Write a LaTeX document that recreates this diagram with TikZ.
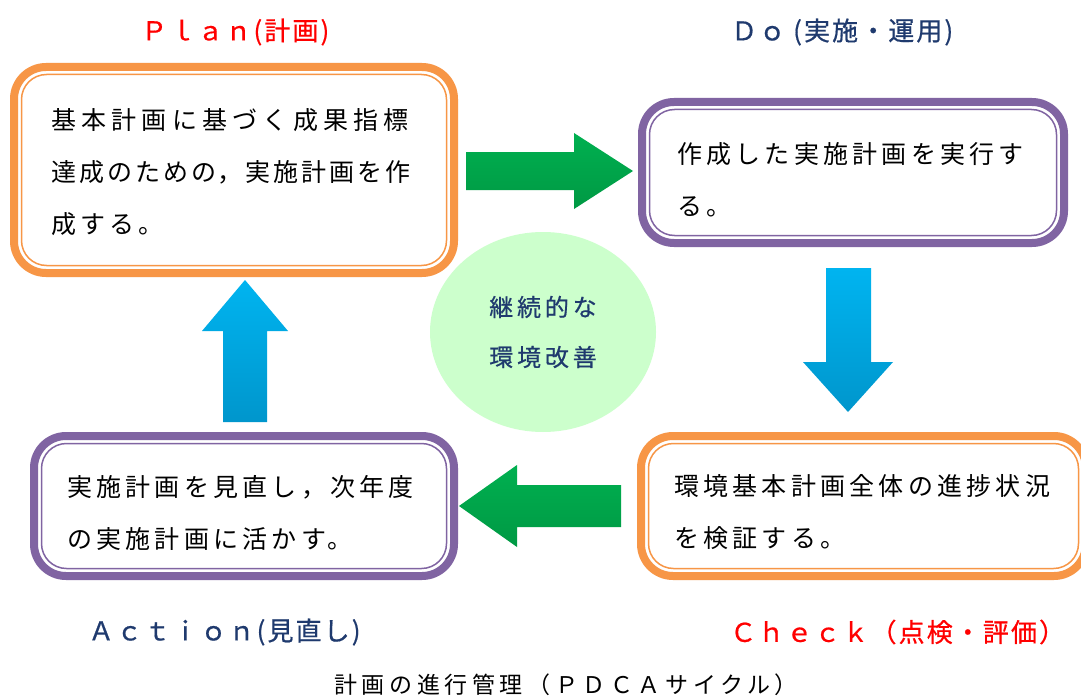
\documentclass[tikz,border=0pt]{standalone}
\usepackage{fontspec}
\setmainfont{Noto Sans CJK JP}
\newfontfamily\jpbox[LetterSpace=17]{Noto Sans CJK JP}
\newfontfamily\jpboxwide[LetterSpace=21]{Noto Sans CJK JP}
\newfontfamily\jpboxnarrow[LetterSpace=12]{Noto Sans CJK JP}
\newfontfamily\jplab[LetterSpace=8,FakeBold=0.6]{Noto Sans CJK JP}
\newfontfamily\jptitle[LetterSpace=20]{Noto Sans CJK JP}
\newfontfamily\jpcirc[LetterSpace=16,FakeBold=0.6]{Noto Sans CJK JP}
\usetikzlibrary{shapes.geometric}
\definecolor{pdcaorange}{HTML}{F79646}
\definecolor{pdcapurple}{HTML}{8064A2}
\definecolor{pdcanavy}{HTML}{1F3A6E}
\definecolor{pdcared}{HTML}{FF0000}
\definecolor{pdcamint}{HTML}{CCFFCC}
\definecolor{greentop}{HTML}{00B050}
\definecolor{greenbot}{HTML}{009944}
\definecolor{bluetop}{HTML}{00B4F0}
\definecolor{bluebot}{HTML}{0096CC}
\tikzset{
  pdcabox/.style={draw=#1, line width=8pt, rounded corners=32pt, fill=white,
    outer sep=0pt, inner sep=0pt, rectangle},
  innerline/.style={draw=#1, line width=1.5pt, rounded corners=25pt},
  boxtext/.style={align=left, inner sep=0pt, text=black, anchor=west,
    font=\jpbox\fontsize{25}{52}\selectfont},
  phase/.style={inner sep=0pt, anchor=west, font=\jplab\fontsize{26}{30}\selectfont},
  greenarrow/.style={top color=greentop, bottom color=greenbot, draw=none},
  bluearrow/.style={top color=bluetop, bottom color=bluebot, draw=none},
}
\begin{document}
\begin{tikzpicture}[x=1pt,y=-1pt]
\useasboundingbox[fill=white] (0,0) rectangle (1081,698);

% boxes
\node[pdcabox=pdcaorange, minimum width=440pt, minimum height=206pt] (plan) at (234,170) {};
\node[pdcabox=pdcapurple, minimum width=422pt, minimum height=141pt] (do) at (853,172.5) {};
\node[pdcabox=pdcaorange, minimum width=445pt, minimum height=140pt] (check) at (863.5,506) {};
\node[pdcabox=pdcapurple, minimum width=420pt, minimum height=140pt] (act) at (244,506) {};

\foreach \n/\c in {plan/pdcaorange, do/pdcapurple, check/pdcaorange, act/pdcapurple}
  \draw[innerline=\c] ([shift={(7.5,7.5)}]\n.north west) rectangle ([shift={(-7.5,-7.5)}]\n.south east);

% box texts
\node[boxtext] (plantext) at (51,172.5) {{\jpboxwide 基本計画に基づく成果指標}\\{\jpboxnarrow 達成のための，実施計画を作}\\成する。};
\node[boxtext] (dotext) at (677,180) {作成した実施計画を実行す\\る。};
\node[boxtext] (checktext) at (674,512.5) {環境基本計画全体の進捗状況\\を検証する。};
\node[boxtext] (acttext) at (67,512.5) {実施計画を見直し，次年度\\の実施計画に活かす。};

% centre ellipse
\node[ellipse, fill=pdcamint, minimum width=226pt, minimum height=200pt, inner sep=0pt,
  align=center, text=pdcanavy, font=\jpcirc\fontsize{24}{50}\selectfont] (centre) at (543,332)
  {継続的な\\環境改善};

% block arrows
\shade[greenarrow] (466,152) -- (574,152) -- (574,133) -- (633,171) -- (574,209) -- (574,190) -- (466,190) -- cycle;
\shade[bluearrow] (826,268) -- (871,268) -- (871,362) -- (893,362) -- (848,412) -- (803,362) -- (826,362) -- cycle;
\shade[greenarrow] (621,485) -- (517,485) -- (517,465) -- (459,506) -- (517,547) -- (517,527) -- (621,527) -- cycle;
\shade[bluearrow] (223,422) -- (267,422) -- (267,331) -- (288,331) -- (245,280) -- (202,331) -- (223,331) -- cycle;

% phase labels
\node[phase, text=pdcared] (planlabel) at (141,32) {Ｐｌａｎ(計画)};
\node[phase, text=pdcanavy] (dolabel) at (731,32) {Ｄｏ (実施・運用)};
\node[phase, text=pdcanavy] (actlabel) at (88,632) {Ａｃｔｉｏｎ(見直し)};
\node[phase, text=pdcared] (checklabel) at (730,632) {Ｃｈｅｃｋ（点検・評価）};

% title
\node[inner sep=0pt, text=black, font=\jptitle\fontsize{23}{28}\selectfont] (title) at (566,685)
  {計画の進行管理（ＰＤＣＡサイクル）};
\end{tikzpicture}
\end{document}
